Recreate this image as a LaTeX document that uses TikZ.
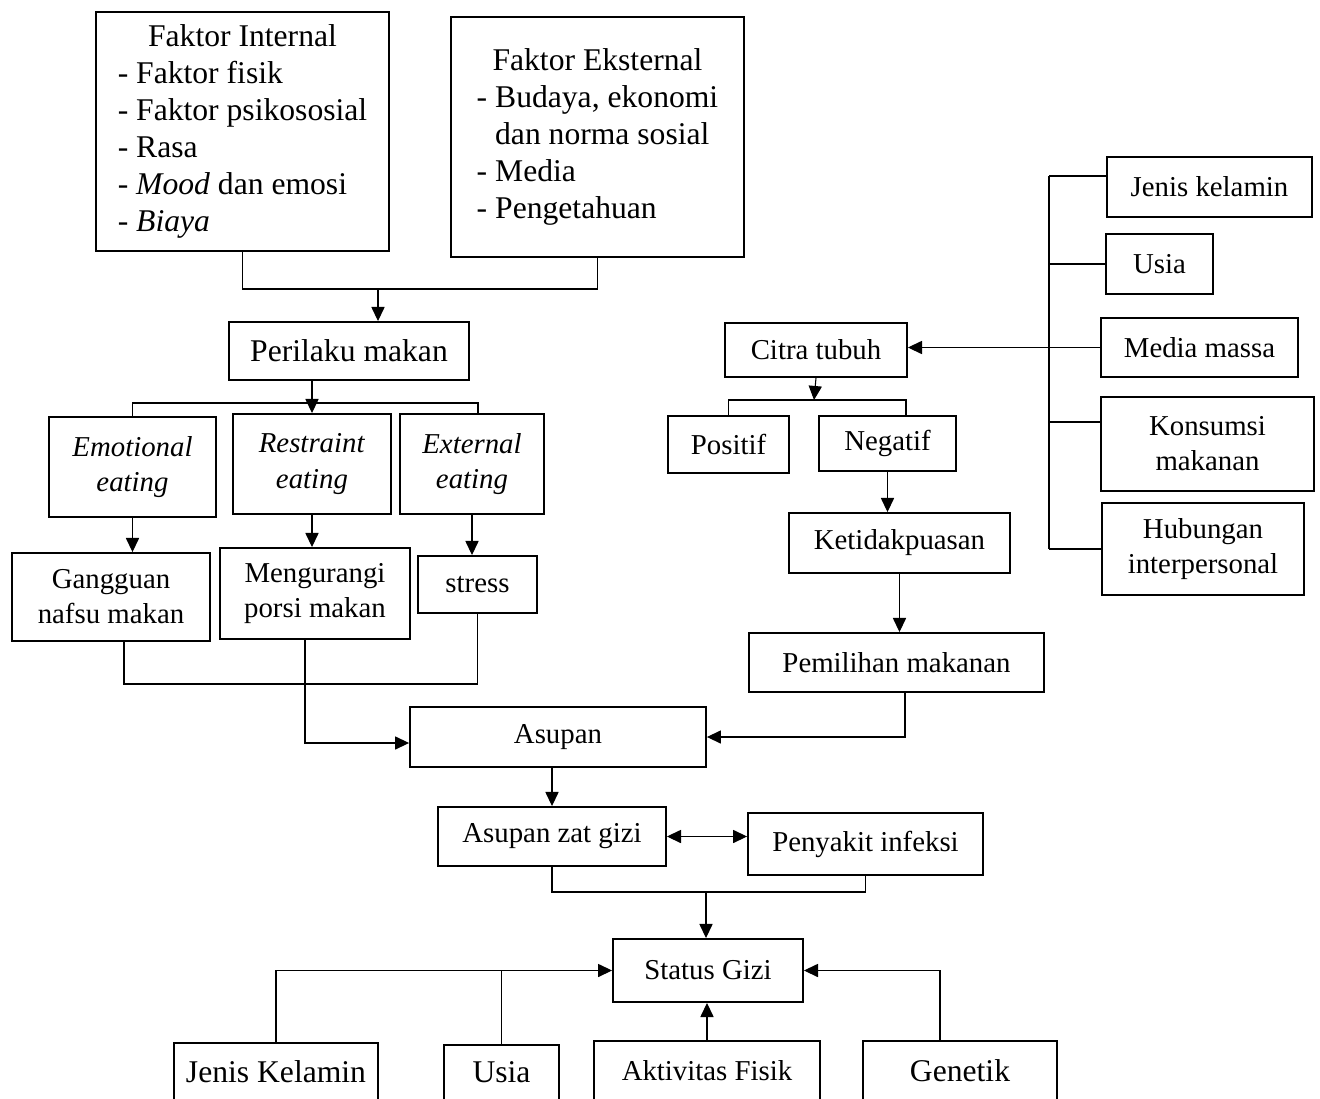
\documentclass[tikz,border=0pt]{standalone}
\usepackage{fontspec}
\setmainfont{Liberation Serif}
\usetikzlibrary{
    arrows.meta,
    calc,
    positioning,
}
\newcommand{\fsnorm}{\fontsize{16.4}{20}\selectfont}
\newcommand{\fsbig}{\fontsize{18}{21}\selectfont}

\begin{document}
\begin{tikzpicture}[x=0.02cm,y=-0.02cm,>={Triangle[length=8pt,width=7.5pt]}]

    \tikzstyle{box}=[draw, line width=1.1pt, inner sep=0pt, align=center, font=\fsnorm]
    \tikzstyle{bigbox}=[box, font=\fsbig]
    \tikzstyle{openbox}=[inner sep=0pt, align=center, font=\fsbig]
    \tikzstyle{link}=[line width=0.6pt]
    \tikzstyle{arr}=[link, ->]
    \tikzstyle{dblarr}=[link, <->]

    \useasboundingbox (0,0) rectangle (1320,1099);

    % Faktor
    \node at (242.5,131.5) [bigbox, minimum width=5.86cm, minimum height=4.78cm] (FI)
        {\begin{tabular}{@{}l@{}}\multicolumn{1}{@{}c@{}}{Faktor Internal}\\
         - Faktor fisik\\ - Faktor psikososial\\ - Rasa\\
         - \textit{Mood} dan emosi\\ - \textit{Biaya}\end{tabular}};
    \node at (597.5,137) [bigbox, minimum width=5.86cm, minimum height=4.8cm] (FE)
        {\begin{tabular}{@{}l@{}}\multicolumn{1}{@{}c@{}}{Faktor Eksternal}\\
         - Budaya, ekonomi\\ \phantom{- }dan norma sosial\\ - Media\\
         - Pengetahuan\end{tabular}};

    % Perilaku makan
    \node at (349,351) [bigbox, minimum width=4.8cm, minimum height=1.16cm] (PM) {Perilaku makan};
    \node at (132.5,467) [box, minimum width=3.34cm, minimum height=2cm] (EE) {\textit{Emotional}\\\textit{eating}};
    \node at (312,464) [box, minimum width=3.16cm, minimum height=2cm] (RE) {\textit{Restraint}\\\textit{eating}};
    \node at (472,464) [box, minimum width=2.88cm, minimum height=2cm] (XE) {\textit{External}\\\textit{eating}};
    \node at (111,597) [box, minimum width=3.96cm, minimum height=1.76cm] (GN) {Gangguan\\nafsu makan};
    \node at (315,593.5) [box, minimum width=3.8cm, minimum height=1.82cm] (MP) {Mengurangi\\porsi makan};
    \node at (477.5,584.5) [box, minimum width=2.38cm, minimum height=1.14cm] (ST) {stress};

    % Citra tubuh
    \node at (816,350) [box, minimum width=3.64cm, minimum height=1.08cm] (CT) {Citra tubuh};
    \node at (728.5,444.5) [box, minimum width=2.42cm, minimum height=1.14cm] (PO) {Positif};
    \node at (887.5,443.5) [box, minimum width=2.74cm, minimum height=1.1cm] (NE) {Negatif};
    \node at (899.5,543) [box, minimum width=4.42cm, minimum height=1.2cm] (KE) {Ketidakpuasan};
    \node at (896.5,662.5) [box, minimum width=5.9cm, minimum height=1.18cm] (PE) {Pemilihan makanan};
    \node at (1209.5,187) [box, minimum width=4.1cm, minimum height=1.2cm] (JR) {Jenis kelamin};
    \node at (1159.5,264) [box, minimum width=2.14cm, minimum height=1.2cm] (UR) {Usia};
    \node at (1199.5,347.5) [box, minimum width=3.94cm, minimum height=1.18cm] (MM) {Media massa};
    \node at (1207.5,444) [box, minimum width=4.26cm, minimum height=1.88cm] (KM) {Konsumsi\\makanan};
    \node at (1203,549) [box, minimum width=4.04cm, minimum height=1.84cm] (HI) {Hubungan\\interpersonal};

    % Asupan and status gizi
    \node at (558,737) [box, minimum width=5.92cm, minimum height=1.2cm] (AS) {Asupan};
    \node at (552,836.5) [box, minimum width=4.56cm, minimum height=1.18cm] (AZ) {Asupan zat gizi};
    \node at (865.5,844) [box, minimum width=4.7cm, minimum height=1.24cm] (PI) {Penyakit infeksi};
    \node at (708,970.5) [box, minimum width=3.8cm, minimum height=1.26cm] (SG) {Status Gizi};
    \node at (276,1071.5) [openbox, minimum width=4.08cm, minimum height=1.14cm] (JK) {Jenis Kelamin};
    \node at (501.5,1072.5) [openbox, minimum width=2.3cm, minimum height=1.1cm] (US) {Usia};
    \node at (707,1070.5) [openbox, font=\fsnorm, minimum width=4.52cm, minimum height=1.18cm] (AF) {Aktivitas Fisik};
    \node at (960,1070.5) [openbox, minimum width=3.88cm, minimum height=1.18cm] (GE) {Genetik};
    \foreach \n in {JK,US,AF,GE}
        \draw[line width=1.1pt] (\n.south west) |- (\n.north east) -- (\n.south east);

    % Joints
    \coordinate (fjoin) at (378,289);
    \coordinate (pbar) at (315,403);
    \coordinate (gbar) at (300,684);
    \coordinate (cbar) at (814,400);
    \coordinate (bustop) at (1049,176);
    \coordinate (zbar) at (706,892);

    % Connectors
    \draw[link] (FI.south) |- (fjoin) -| (FE.south);
    \draw[arr] (fjoin) -- (fjoin |- PM.north);
    \draw[arr] (PM.south -| RE.north) -- (RE.north);
    \draw[link] (EE.north) |- (pbar) -| ([xshift=0.12cm]XE.north);
    \draw[arr] (EE.south) -- (EE.south |- GN.north);
    \draw[arr] (RE.south) -- (RE.south |- MP.north);
    \draw[arr] (XE.south) -- (XE.south |- ST.north);
    \draw[link] ([xshift=0.26cm]GN.south) |- (gbar) -| (ST.south);
    \draw[arr] ([xshift=-0.2cm]MP.south) |- ([yshift=-0.12cm]AS.west);

    \draw[link] (bustop) -- (HI.west -| bustop);
    \draw[link] (bustop) -- (bustop -| JR.west);
    \draw[link] (UR.west) -- (UR.west -| bustop);
    \draw[link] ([yshift=0.44cm]KM.west) -- ([yshift=0.44cm]KM.west -| bustop);
    \draw[link] (HI.west) -- (HI.west -| bustop);
    \draw[arr] (MM.west) -- (MM.west -| CT.east);
    \draw[arr] (CT.south) -- (cbar);
    \draw[link] (PO.north) |- (cbar) -| ([xshift=0.37cm]NE.north);
    \draw[arr] (NE.south) -- (NE.south |- KE.north);
    \draw[arr] (KE.south) -- (KE.south |- PE.north);
    \draw[arr] ([xshift=0.17cm]PE.south) |- (AS.east);

    \draw[arr] (AS.south -| AZ.north) -- (AZ.north);
    \draw[dblarr] (AZ.east) -- (AZ.east -| PI.west);
    \draw[link] (AZ.south) |- (zbar) -| (PI.south);
    \draw[arr] (zbar) -- (zbar |- SG.north);
    \draw[arr] (JK.north) |- (SG.west);
    \draw[link] (US.north) -- (US.north |- SG.west);
    \draw[arr] (AF.north) -- (AF.north |- SG.south);
    \draw[arr] ([xshift=-0.4cm]GE.north) |- (SG.east);

\end{tikzpicture}
\end{document}
